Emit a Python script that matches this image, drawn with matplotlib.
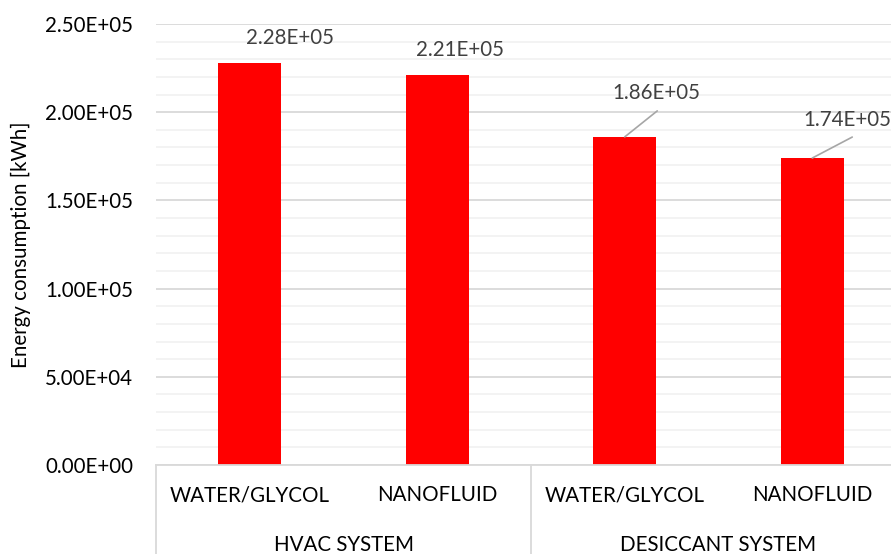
import matplotlib
matplotlib.use("Agg")
import matplotlib.pyplot as plt
import matplotlib.transforms as mtransforms
from matplotlib.ticker import MultipleLocator, FuncFormatter

# ---- data ----
fluids = ["WATER/GLYCOL", "NANOFLUID", "WATER/GLYCOL", "NANOFLUID"]
systems = ["HVAC SYSTEM", "DESICCANT SYSTEM"]
energy_kwh = [2.28e5, 2.21e5, 1.86e5, 1.74e5]
y_label = "Energy consumption [kWh]"
y_max = 2.5e5

# ---- label placement (pixels offsets from bar top centre) ----
label_offsets = [(40, 25), (23, 25), (32, 44), (35, 38)]
leader_ends = [None, None, (32.5, 26), (40, 21)]

plt.rcParams['font.family'] = ['Lato', 'DejaVu Sans']
FS = 14.8

fig = plt.figure(figsize=(8.91, 5.54), dpi=100)
W, H = 891, 554
left, right, bottom, top = 156, 906, 465, 24
ax = fig.add_axes([left / W, (H - bottom) / H, (right - left) / W, (bottom - top) / H])

x = list(range(len(energy_kwh)))
ax.bar(x, energy_kwh, width=0.336, color="#ff0000", zorder=3, linewidth=0)

ax.set_xlim(-0.5, len(energy_kwh) - 0.5)
ax.set_ylim(0, y_max)
ax.yaxis.set_major_locator(MultipleLocator(5e4))
ax.yaxis.set_minor_locator(MultipleLocator(1e4))
ax.yaxis.set_major_formatter(FuncFormatter(lambda v, p: f"{v:.2E}"))
ax.grid(which="major", axis="y", color="#d9d9d9", linewidth=1.3, zorder=1)
ax.grid(which="minor", axis="y", color="#f2f2f2", linewidth=1.3, zorder=0)
ax.tick_params(axis="y", which="both", length=0, pad=16.5, labelsize=FS, labelcolor="#000000")
ax.set_xticks([])
for s in ax.spines.values():
    s.set_visible(False)

# x axis line and category box lines
trans = mtransforms.blended_transform_factory(ax.transData, ax.transAxes)
ax.plot([-0.5, len(energy_kwh) - 0.5], [0, 0], transform=trans, color="#d9d9d9",
        linewidth=1.3, clip_on=False, zorder=4)
for xv in [-0.5, 1.5, 3.5]:
    ax.plot([xv, xv], [0, -0.25], transform=trans, color="#d9d9d9", linewidth=1.3,
            clip_on=False, zorder=4)

ax_h = bottom - top
for i, name in enumerate(fluids):
    ax.text(i, -30 / ax_h, name, transform=trans, ha="center", va="center",
            fontsize=FS, color="#000000")
for j, name in enumerate(systems):
    ax.text(2 * j + 0.5, -80 / ax_h, name, transform=trans, ha="center", va="center",
            fontsize=FS, color="#000000")

# y label
ax.text((21 - left) / (right - left), 0.5, y_label, transform=ax.transAxes,
        rotation=90, ha="center", va="center", fontsize=FS, color="#000000")

# data labels
for i, v in enumerate(energy_kwh):
    dx, dy = label_offsets[i]
    ax.annotate(f"{v:.2E}", xy=(i, v), xytext=(dx, dy), textcoords="offset pixels",
                ha="center", va="center", fontsize=FS, color="#404040",
                annotation_clip=False, zorder=5)
    if leader_ends[i] is not None:
        ax.annotate("", xy=(i, v), xytext=leader_ends[i], textcoords="offset pixels",
                    arrowprops=dict(arrowstyle="-", color="#a6a6a6", linewidth=1.2,
                                    shrinkA=0, shrinkB=0), zorder=5)

fig.savefig("out.png", dpi=100)
